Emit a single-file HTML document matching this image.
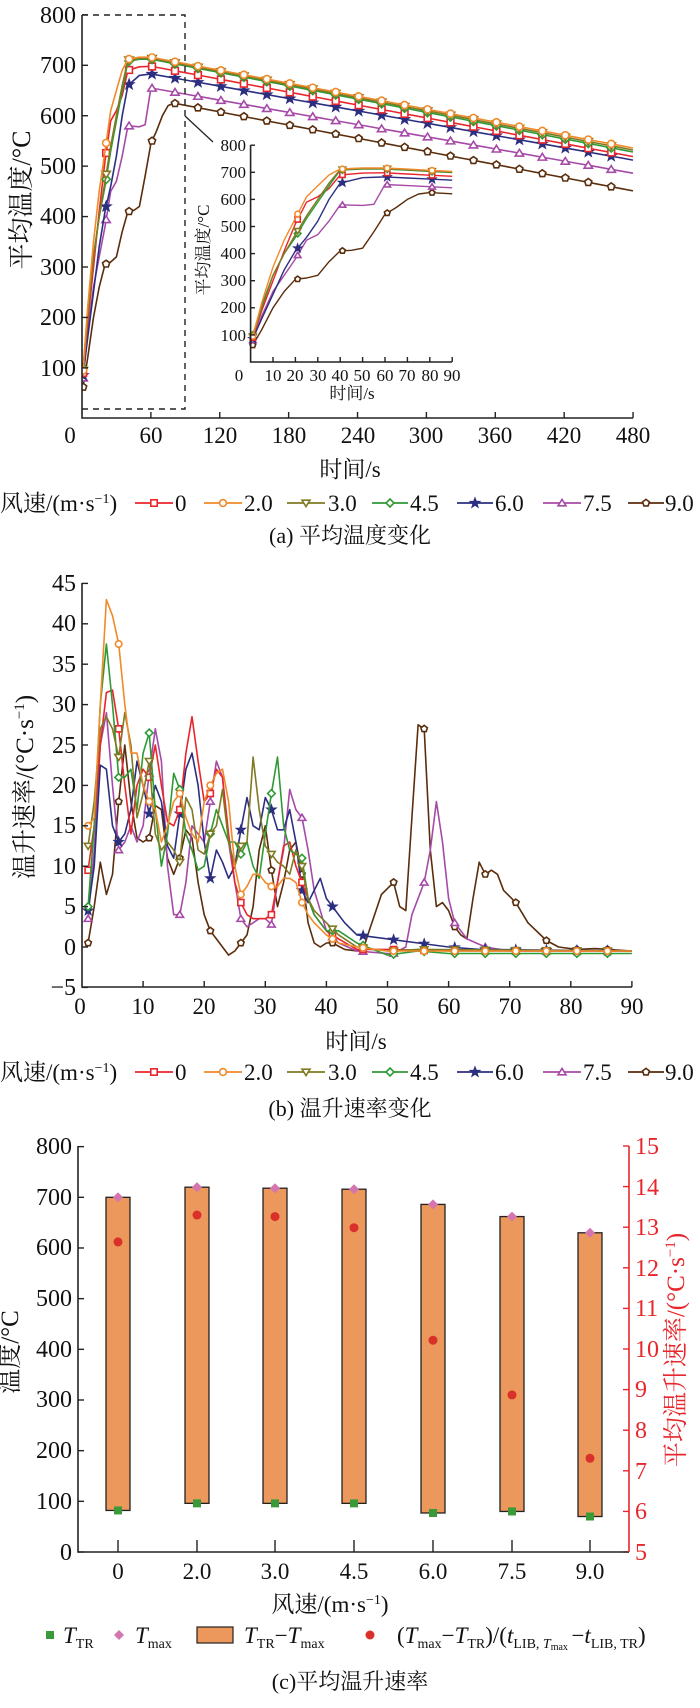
<!DOCTYPE html>
<html><head><meta charset="utf-8">
<style>
html,body{margin:0;padding:0;background:#fff;}
svg{display:block;font-family:"Liberation Serif","Noto Serif CJK SC",serif;}
</style></head>
<body>
<svg id="s" width="700" height="1708" viewBox="0 0 700 1708" xmlns="http://www.w3.org/2000/svg">
<defs>
<clipPath id="ca"><rect x="82" y="10" width="555" height="408"/></clipPath>
<clipPath id="cb"><rect x="82" y="575" width="555" height="412"/></clipPath>
</defs>
<g id="ga" clip-path="url(#ca)"></g>
<g id="gi"></g>
<g id="gb" clip-path="url(#cb)"></g>
<g id="gm"></g>
<g id="gc"></g>
<!-- Panel a axes -->
<g stroke="#222" stroke-width="1.6" fill="none">
<path d="M82,15 V418 H633"/>
<path d="M82,15 H185 V409 H82" stroke-dasharray="6,5" stroke-width="1.4"/>
<path d="M185,116 L213,142" stroke-width="1.3"/>
<path d="M250.6,145 V362 H452"/>
</g>
<g id="ticks" stroke="#222" stroke-width="1.4"></g>
<g font-size="24" fill="#111" text-anchor="end">
<text x="76" y="23">800</text><text x="76" y="73">700</text><text x="76" y="124">600</text><text x="76" y="174">500</text><text x="76" y="224">400</text><text x="76" y="275">300</text><text x="76" y="325">200</text><text x="76" y="376">100</text>
</g>
<g font-size="23" fill="#111" text-anchor="middle">
<text x="70" y="443">0</text><text x="151" y="443">60</text><text x="220" y="443">120</text><text x="289" y="443">180</text><text x="358" y="443">240</text><text x="426" y="443">300</text><text x="495" y="443">360</text><text x="564" y="443">420</text><text x="633" y="443">480</text>
<text x="350" y="477">时间/s</text>
</g>
<text transform="translate(30,200) rotate(-90)" font-size="26" text-anchor="middle" fill="#111">平均温度/°C</text>
<g font-size="17" fill="#111" text-anchor="end">
<text x="246" y="151">800</text><text x="246" y="178">700</text><text x="246" y="205">600</text><text x="246" y="232">500</text><text x="246" y="259">400</text><text x="246" y="286">300</text><text x="246" y="313">200</text><text x="246" y="341">100</text>
</g>
<g font-size="17" fill="#111" text-anchor="middle">
<text x="239" y="381">0</text><text x="273" y="381">10</text><text x="295" y="381">20</text><text x="318" y="381">30</text><text x="340" y="381">40</text><text x="362" y="381">50</text><text x="385" y="381">60</text><text x="407" y="381">70</text><text x="430" y="381">80</text><text x="452" y="381">90</text>
<text x="352" y="399">时间/s</text>
</g>
<text transform="translate(209,250) rotate(-90)" font-size="17" text-anchor="middle" fill="#111">平均温度/°C</text>

<!-- Panel b axes -->
<g stroke="#222" stroke-width="1.6" fill="none"><path d="M82,583 V987 H632"/></g>
<g font-size="24" fill="#111" text-anchor="end">
<text x="76" y="591">45</text><text x="76" y="631">40</text><text x="76" y="672">35</text><text x="76" y="712">30</text><text x="76" y="753">25</text><text x="76" y="793">20</text><text x="76" y="833">15</text><text x="76" y="874">10</text><text x="76" y="914">5</text><text x="76" y="955">0</text><text x="76" y="995">−5</text>
</g>
<g font-size="23" fill="#111" text-anchor="middle">
<text x="80" y="1014">0</text><text x="143" y="1014">10</text><text x="204" y="1014">20</text><text x="265" y="1014">30</text><text x="326" y="1014">40</text><text x="387" y="1014">50</text><text x="449" y="1014">60</text><text x="510" y="1014">70</text><text x="571" y="1014">80</text><text x="632" y="1014">90</text>
<text x="356" y="1049">时间/s</text>
</g>
<text transform="translate(33,787) rotate(-90)" font-size="25" text-anchor="middle" fill="#111">温升速率/(°C·s<tspan dy="-9" font-size="15">−1</tspan><tspan dy="9">)</tspan></text>

<!-- legends -->
<g font-size="23" fill="#111">
<text x="0" y="511">风速/(m·s<tspan dy="-8" font-size="14">−1</tspan><tspan dy="8">)</tspan></text>
<text x="175" y="511">0</text><text x="244" y="511">2.0</text><text x="328" y="511">3.0</text><text x="410" y="511">4.5</text><text x="495" y="511">6.0</text><text x="583" y="511">7.5</text><text x="665" y="511">9.0</text>
<text x="0" y="1080">风速/(m·s<tspan dy="-8" font-size="14">−1</tspan><tspan dy="8">)</tspan></text>
<text x="175" y="1080">0</text><text x="244" y="1080">2.0</text><text x="328" y="1080">3.0</text><text x="410" y="1080">4.5</text><text x="495" y="1080">6.0</text><text x="583" y="1080">7.5</text><text x="665" y="1080">9.0</text>
</g>
<g font-size="22" fill="#111" text-anchor="middle">
<text x="350" y="543">(a) 平均温度变化</text>
<text x="350" y="1116">(b) 温升速率变化</text>
</g>

<!-- Panel c axes -->
<g stroke="#222" stroke-width="1.6" fill="none"><path d="M78,1146 V1552 H629"/></g>
<path d="M629,1146 V1552" stroke="#e8262b" stroke-width="1.6"/>
<g font-size="24" fill="#111" text-anchor="end">
<text x="72" y="1154">800</text><text x="72" y="1205">700</text><text x="72" y="1255">600</text><text x="72" y="1306">500</text><text x="72" y="1357">400</text><text x="72" y="1407">300</text><text x="72" y="1458">200</text><text x="72" y="1509">100</text><text x="72" y="1560">0</text>
</g>
<g font-size="24" fill="#e8262b" text-anchor="start">
<text x="635" y="1154">15</text><text x="635" y="1195">14</text><text x="635" y="1235">13</text><text x="635" y="1276">12</text><text x="635" y="1316">11</text><text x="635" y="1357">10</text><text x="635" y="1397">9</text><text x="635" y="1438">8</text><text x="635" y="1479">7</text><text x="635" y="1519">6</text><text x="635" y="1560">5</text>
</g>
<g font-size="23" fill="#111" text-anchor="middle">
<text x="118" y="1579">0</text><text x="197" y="1579">2.0</text><text x="275" y="1579">3.0</text><text x="354" y="1579">4.5</text><text x="433" y="1579">6.0</text><text x="512" y="1579">7.5</text><text x="590" y="1579">9.0</text>
<text x="330" y="1612">风速/(m·s<tspan dy="-8" font-size="14">−1</tspan><tspan dy="8">)</tspan></text>
</g>
<text transform="translate(18,1352) rotate(-90)" font-size="25" text-anchor="middle" fill="#111">温度/°C</text>
<text transform="translate(684,1350) rotate(-90)" font-size="25" text-anchor="middle" fill="#e8262b">平均温升速率/(°C·s<tspan dy="-9" font-size="15">−1</tspan><tspan dy="9">)</tspan></text>

<!-- Panel c legend -->
<rect x="46" y="1631" width="8" height="8" fill="#3a9a3a"/>
<path d="M119,1630 l5,5 l-5,5 l-5,-5z" fill="#d475b0"/>
<rect x="197" y="1627" width="36" height="16" fill="#ec975b" stroke="#222" stroke-width="1.2"/>
<circle cx="370" cy="1635" r="4.5" fill="#d9312a"/>
<g font-size="23" fill="#111">
<text x="63" y="1643" font-style="italic">T<tspan font-style="normal" font-size="14" dy="5">TR</tspan></text>
<text x="135" y="1643" font-style="italic">T<tspan font-style="normal" font-size="14" dy="5">max</tspan></text>
<text x="244" y="1643"><tspan font-style="italic">T</tspan><tspan font-size="14" dy="5">TR</tspan><tspan dy="-5">−</tspan><tspan font-style="italic">T</tspan><tspan font-size="14" dy="5">max</tspan></text>
<text x="397" y="1643">(<tspan font-style="italic">T</tspan><tspan font-size="14" dy="5">max</tspan><tspan dy="-5">−</tspan><tspan font-style="italic">T</tspan><tspan font-size="14" dy="5">TR</tspan><tspan dy="-5">)/(</tspan><tspan font-style="italic">t</tspan><tspan font-size="14" dy="5">LIB, </tspan><tspan font-size="14" font-style="italic">T</tspan><tspan font-size="10" dy="2">max</tspan><tspan font-size="14" dy="-2"> </tspan><tspan dy="-5">−</tspan><tspan font-style="italic">t</tspan><tspan font-size="14" dy="5">LIB, TR</tspan><tspan dy="-5">)</tspan></text>
</g>
<text x="350" y="1689" font-size="22" text-anchor="middle" fill="#111">(c)平均温升速率</text>
</svg>
<script>
(function(){
var NS="http://www.w3.org/2000/svg";
function el(p,tag,a){var e=document.createElementNS(NS,tag);for(var k in a)e.setAttribute(k,a[k]);p.appendChild(e);return e;}
var C=["#e8262b","#f08a2a","#7f7a23","#2f9a34","#2c2f80","#a64aa8","#5a2d0c"];
var SH=["sq","ci","dt","di","st","ut","pe"];
function mk(g,type,x,y,s,c){
 var a={fill:"#fff",stroke:c,"stroke-width":1.6};
 if(type=="sq"){a.x=x-s*0.8;a.y=y-s*0.8;a.width=s*1.6;a.height=s*1.6;el(g,"rect",a);}
 else if(type=="ci"){a.cx=x;a.cy=y;a.r=s*0.85;el(g,"circle",a);}
 else if(type=="dt"){a.d="M"+(x-s)+","+(y-s*0.7)+"h"+(2*s)+"l"+(-s)+","+(s*1.6)+"z";el(g,"path",a);}
 else if(type=="ut"){a.d="M"+(x-s)+","+(y+s*0.7)+"h"+(2*s)+"l"+(-s)+","+(-s*1.6)+"z";el(g,"path",a);}
 else if(type=="di"){a.d="M"+x+","+(y-s)+"l"+s+","+s+"l"+(-s)+","+s+"l"+(-s)+","+(-s)+"z";el(g,"path",a);}
 else if(type=="st"){var d="";for(var i=0;i<10;i++){var r=i%2?s*0.45:s*1.1,an=-Math.PI/2+i*Math.PI/5;d+=(i?"L":"M")+(x+r*Math.cos(an)).toFixed(1)+","+(y+r*Math.sin(an)).toFixed(1);}a.d=d+"z";a.fill=c;el(g,"path",a);}
 else if(type=="pe"){var d="";for(var i=0;i<5;i++){var an=-Math.PI/2+i*2*Math.PI/5;d+=(i?"L":"M")+(x+s*0.9*Math.cos(an)).toFixed(1)+","+(y+s*0.9*Math.sin(an)).toFixed(1);}a.d=d+"z";el(g,"path",a);}
}
function interp(arr,t){for(var i=0;i<arr.length-1;i++){if(t>=arr[i][0]&&t<=arr[i+1][0]){var f=(t-arr[i][0])/(arr[i+1][0]-arr[i][0]);return arr[i][1]+f*(arr[i+1][1]-arr[i][1]);}}return arr[arr.length-1][1];}
function path(g,arr,fx,fy,c,w){var d="";arr.forEach(function(p,i){d+=(i?"L":"M")+fx(p[0]).toFixed(1)+","+fy(p[1]).toFixed(1);});el(g,"path",{d:d,fill:"none",stroke:c,"stroke-width":w,"stroke-linejoin":"round"});}
var rise=[
[[0,85],[1,90],[5,190],[10,300],[15,410],[20,510],[25,590],[30,610],[35,640],[40,690],[50,697],[60,698]],
[[0,85],[1,95],[5,220],[10,350],[15,450],[20,530],[25,610],[30,650],[35,690],[40,712],[50,716],[60,716]],
[[0,85],[1,95],[5,200],[10,320],[15,400],[20,470],[25,540],[30,600],[35,660],[40,710],[50,714],[60,714]],
[[0,90],[1,100],[5,210],[10,320],[15,400],[20,460],[25,530],[30,590],[35,650],[40,708],[50,712],[60,712]],
[[0,80],[1,85],[5,160],[10,250],[15,340],[20,410],[25,460],[30,520],[35,600],[40,660],[50,680],[60,683]],
[[0,75],[1,80],[5,170],[10,260],[15,320],[20,380],[25,450],[30,470],[35,520],[40,580],[50,578],[55,582],[60,655]],
[[0,60],[1,62],[5,120],[10,200],[15,260],[20,305],[25,310],[30,320],[35,370],[40,410],[45,412],[50,420],[55,480],[60,545],[65,570],[70,600],[75,620],[80,625]]];
var ends=[519,536,532,528,512,486,451];
var series=rise.map(function(r,i){var a=r.slice();var tp=a[a.length-1][0],pv=a[a.length-1][1];for(var t=tp+10;t<=480;t+=10){a.push([t,pv-(pv-ends[i])*(t-tp)/(480-tp)]);}return a;});
var ga=document.getElementById("ga"),gi=document.getElementById("gi");
var fx=function(t){return 82+1.148*t},fy=function(v){return 418.3-0.5043*v};
var ix=function(t){return 250.6+2.24*t},iy=function(v){return 362-0.271*v};
var order=[6,5,4,0,3,2,1];
order.forEach(function(i){var s=series[i];
 path(ga,s,fx,fy,C[i],1.6);
 for(var t=1;t<=461;t+=20)mk(ga,SH[i],fx(t),fy(interp(s,t)),4.2,C[i]);
 var si=s.filter(function(p){return p[0]<=90;});si.push([90,interp(s,90)]);
 path(gi,si,ix,iy,C[i],1.4);
 for(var t=1;t<=81;t+=20)mk(gi,SH[i],ix(t),iy(interp(s,t)),3.3,C[i]);
});
var tk=document.getElementById("ticks");
function ln(x1,y1,x2,y2){return el(tk,"line",{x1:x1,y1:y1,x2:x2,y2:y2});}
for(var v=100;v<=800;v+=100){ln(82,fy(v),88,fy(v));ln(250.6,iy(v),255,iy(v));}
for(var t=60;t<=480;t+=60)ln(fx(t),418,fx(t),412);
for(var t=10;t<=90;t+=10)ln(ix(t),362,ix(t),357);
var bx=function(t){return 82+6.11*t},by=function(v){return 947-8.08*v};
for(var v=-5;v<=45;v+=5)ln(82,by(v),88,by(v));
for(var t=10;t<=90;t+=10)ln(bx(t),987,bx(t),981);
for(var v=0;v<=800;v+=100)ln(78,1552-0.5067*v,84,1552-0.5067*v);
[118,197,275,354,433,512,590].forEach(function(x){ln(x,1552,x,1540);});
for(var v=5;v<=15;v++){var e=ln(629,1552-40.6*(v-5),623,1552-40.6*(v-5));e.setAttribute("stroke","#e8262b");}
function P(o){var a=[];for(var k in o)a.push([+k,o[k]]);a.sort(function(p,q){return p[0]-q[0]});return a;}
var B=[
P({1:9.5,2:15,3:25,4:31.5,5:31.8,6:27,7:20,8:14,9:20,10:22,11:21,12:25,13:20,14:15.5,15:15,16:17,17:24,18:28.5,19:23,20:18,21:19,22:22,23:21,24:14,25:8,26:5.5,27:4,28:3.5,29:3.5,30:3.5,31:4,32:8,33:12.5,34:13,35:10,36:8,37:6,38:4,39:3,40:2,42:1,45:-0.3,50:-0.3,60:-0.5,90:-0.5}),
P({1:15,2:16,3:30,4:43,5:41,6:37.5,7:30,8:24,9:24,10:20,11:18,12:17,13:13,14:15,15:18,16:19,17:16,18:14,19:13,20:18,21:20,22:21.5,23:22,24:18,25:10,26:6.5,27:7.5,28:9,29:9,30:8,31:7.5,32:7.5,33:8.5,34:8.5,35:8,36:5.5,37:4,38:3,40:1.5,42:0.5,45:0,50:-0.5,90:-0.5}),
P({1:12.5,2:18,3:27,4:28.5,5:27,6:23.5,7:29,8:25,9:16,10:19,11:23,12:14,13:12,14:13,15:12,16:10.5,17:18.5,18:17,19:12,20:11.5,21:14,22:15,23:19.5,24:13,25:10,26:12.5,27:13,28:23.5,29:17,30:12.5,31:11.5,32:10.5,33:10,34:9,35:12,36:10,37:6,38:4.5,40:3,42:1.5,45:0,50:-0.5,55:-0.3,90:-0.5}),
P({1:5,2:15,3:30,4:37.5,5:30,6:21,7:21,8:22,9:17,10:24,11:26.5,12:17,13:10,14:14,15:21.5,16:19.5,17:14,18:12,19:9.5,20:10,21:14,22:17,23:15,24:13,25:13,26:11.5,27:13,28:10,29:8.5,30:14,31:19,32:23.5,33:15,34:12,35:11.5,36:11,37:6,38:4,40:2,42:2,45:0.5,50:-1,55:-0.5,60:-0.8,90:-0.8}),
P({1:4.5,2:10,3:22.5,4:22,5:15,6:13,7:14,8:17,9:23,10:20,11:16.5,12:20,13:18,14:12.5,15:11,16:16.5,17:22,18:24,19:20,20:13,21:8.5,22:12,23:10.5,24:8.5,25:10,26:14.5,27:18.5,28:15,29:14.5,30:18.5,31:17,32:14.5,33:14.5,34:17,35:13,36:7,37:5.5,38:7,39:8.5,40:6,41:5,43:3,45:1.5,50:1,55:0.5,60:0,65:-0.3,90:-0.5}),
P({1:3.5,2:12,3:25,4:29,5:20,6:12,7:13,8:15,9:13,10:15,11:21.5,12:27,13:23,14:10,15:4,16:4,17:8,18:15,19:14,20:13,21:18,22:23,23:21,24:13,25:8,26:3.5,27:2.5,28:3,29:3.5,30:3.5,31:2.8,32:8,33:12,34:19.5,35:17,36:16,37:12,38:7,40:2,42:0.5,45:-0.5,50:-0.8,51:-0.8,53:0,54:4,56:8,57:12,58:18,59:13,60:6,61:3,63:1,66:0,70:-0.5,90:-0.5}),
P({1:0.5,2:5,3:10.5,4:6.5,5:9,6:18,7:25,8:18,9:13.5,10:13,11:13.5,12:17.5,13:17,14:11,15:9,16:11,17:14.5,18:13.5,19:8,20:4,21:2,22:1,23:0,24:-1,25:-0.5,26:0.5,27:1.5,28:5,29:12,30:15,31:9.5,32:5,33:8,34:12,35:13,36:9,37:3,38:0.5,39:0,40:0.5,41:0.5,43:-0.3,45:-0.5,46:-0.3,47:2,49:6.5,51:8,52:5,53:4.5,54:16,55:27.5,56:27,57:12,58:5,59:5.5,60:4.5,61:2.5,62:1.5,63:1,64:6,65:10.5,66:9,67:9.5,68:9,69:7,71:5.5,73:3,76:0.8,78:0,81:-0.3,84:-0.2,86:-0.3,90:-0.5})];
var gb=document.getElementById("gb");
order.forEach(function(i){path(gb,B[i],bx,by,C[i],1.6);for(var t=1;t<=86;t+=5)mk(gb,SH[i],bx(t),by(interp(B[i],t)),3.8,C[i]);});
var gm=document.getElementById("gm");
var lx=[[135,173],[204,242],[287,325],[372,408],[457,493],[543,581],[628,664]];
[503,1072].forEach(function(y){lx.forEach(function(p,i){el(gm,"line",{x1:p[0],y1:y,x2:p[1],y2:y,stroke:C[i],"stroke-width":1.8});mk(gm,SH[i],(p[0]+p[1])/2,y,4,C[i]);});});
var gc=document.getElementById("gc");
var cxs=[118,197,275,354,433,512,590],tops=[700,720,718,716,686,662,630],bots=[82,96,96,96,77,80,70],reds=[612,665,662,640,418,310,185];
var cy=function(v){return 1552-0.5067*v};
cxs.forEach(function(x,i){
 el(gc,"rect",{x:x-12,y:cy(tops[i]),width:24,height:cy(bots[i])-cy(tops[i]),fill:"#ec975b",stroke:"#222","stroke-width":1.3});
 el(gc,"rect",{x:x-4,y:cy(bots[i])-4,width:8,height:8,fill:"#3a9a3a"});
 var yy=cy(tops[i]);el(gc,"path",{d:"M"+x+","+(yy-5)+"l5,5l-5,5l-5,-5z",fill:"#d475b0"});
 el(gc,"circle",{cx:x,cy:cy(reds[i]),r:4.5,fill:"#d9312a"});
});
})();
</script>
</body></html>
